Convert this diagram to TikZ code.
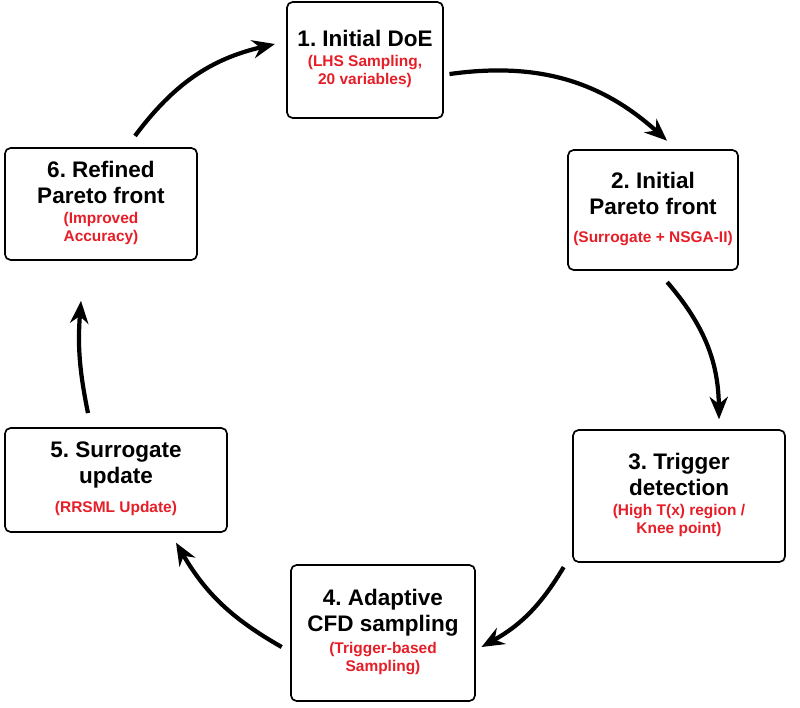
\documentclass[tikz,border=0pt]{standalone}
\usepackage{fontspec}
\setmainfont{Liberation Sans}
\usetikzlibrary{arrows.meta, positioning}
\definecolor{stepRed}{RGB}{230, 30, 40}
\newcommand{\subtxt}[1]{{\color{stepRed}\fontsize{11}{13}\selectfont\begin{tabular}{@{}c@{}}#1\end{tabular}}}
\frenchspacing

\tikzset{
  stepbox/.style={draw, very thick, rounded corners=4pt, fill=white, align=center, font=\bfseries\fontsize{16}{18.5}\selectfont},
  flow/.style={-{Stealth[length=16pt, width=13pt]}, line width=3pt}
}

\begin{document}
\begin{tikzpicture}[x=0.025cm, y=-0.025cm]
    \useasboundingbox (0,0) rectangle (800,708);
    % Nodes
    \node[stepbox, minimum width=3.9cm, minimum height=2.9cm] (doe) at (365,60) {1. Initial DoE\\[2pt]\subtxt{(LHS Sampling,\\20 variables)}};
    \node[stepbox, minimum width=4.25cm, minimum height=3cm] (pareto) at (653,210) {2. Initial\\Pareto front\\[2pt]\subtxt{(Surrogate + NSGA-II)}};
    \node[stepbox, minimum width=5.3cm, minimum height=3.3cm] (trigger) at (679,496) {3. Trigger\\detection\\[2pt]\subtxt{(High T(x) region /\\Knee point)}};
    \node[stepbox, minimum width=4.6cm, minimum height=3.4cm] (cfd) at (383,633) {4. Adaptive\\CFD sampling\\[2pt]\subtxt{(Trigger-based\\Sampling)}};
    \node[stepbox, minimum width=5.55cm, minimum height=2.6cm] (update) at (116,480) {5. Surrogate\\update\\[2pt]\subtxt{(RRSML Update)}};
    \node[stepbox, minimum width=4.8cm, minimum height=2.8cm] (refined) at (101,204) {6. Refined\\Pareto front\\[2pt]\subtxt{(Improved\\Accuracy)}};

    % Arrows
    \draw[flow] ([xshift=4pt,yshift=-10pt]doe.east) to[bend left=25] ([xshift=10pt,yshift=6pt]pareto.north);
    \draw[flow] ([xshift=2.5cm,yshift=-8pt]pareto.south west) to[bend left=20] ([xshift=1cm,yshift=7pt]trigger.north);
    \draw[flow] ([xshift=-6pt,yshift=-3pt]trigger.south west) to[bend left=15] ([xshift=4pt,yshift=-0.35cm]cfd.east);
    \draw[flow] ([xshift=-6pt,yshift=-0.35cm]cfd.west) to[bend left=15] ([xshift=1.5cm,yshift=-7pt]update.south);
    \draw[flow] ([xshift=-0.7cm,yshift=10pt]update.north) to[bend left=8] ([xshift=-0.5cm,yshift=-1.0cm]refined.south);
    \draw[flow] ([xshift=0.85cm,yshift=8pt]refined.north) to[bend left=20] ([xshift=-8pt,yshift=0.4cm]doe.west);
\end{tikzpicture}
\end{document}
